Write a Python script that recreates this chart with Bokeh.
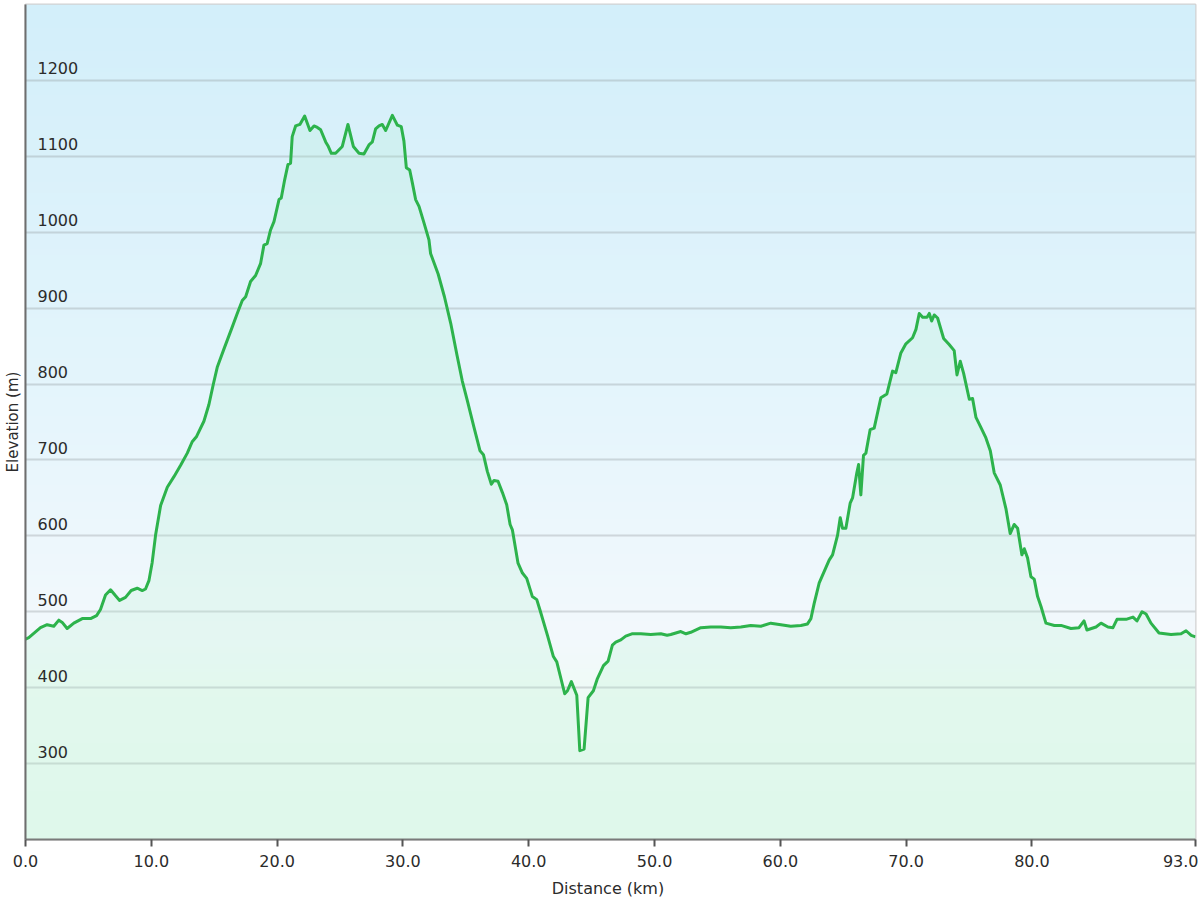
import numpy as np
from bokeh.plotting import figure
from bokeh.models import FixedTicker, Range1d
from bokeh.core.properties import value
from bokeh.embed import file_html
from bokeh.resources import INLINE

# ---------------- data ----------------
distance_km = [
    0.0, 0.26, 1.19, 1.72, 2.25, 2.65, 2.92, 3.31, 3.84, 4.51, 5.17, 5.65, 5.96, 6.36, 6.76,
    7.16, 7.48, 7.95, 8.4, 8.88, 9.28, 9.54, 9.81, 10.07, 10.34, 10.74, 11.27, 11.8, 12.33,
    12.86, 13.25, 13.6, 14.18, 14.58, 14.92,
    15.24, 15.77, 16.43, 16.83, 17.23, 17.5, 17.89, 18.29, 18.69, 18.95, 19.21, 19.48, 19.75,
    20.15, 20.33, 20.6, 20.86, 21.07, 21.2, 21.47, 21.81, 22.19, 22.61, 22.93, 23.2, 23.46,
    23.86, 24.04, 24.31, 24.65, 25.18, 25.63, 26.06, 26.51, 26.9, 27.3, 27.57, 27.83, 28.1,
    28.36, 28.63, 29.16, 29.56, 29.87, 30.08, 30.27, 30.54, 30.75, 31.01, 31.28, 31.68, 32.07,
    32.2, 32.8, 33.3, 33.8, 34.3,
    34.72, 35.12, 35.65, 36.13, 36.4, 36.71, 37.03, 37.24, 37.56, 37.91, 38.25, 38.52, 38.7,
    39.15, 39.5, 39.84, 40.29, 40.64, 40.9, 41.49, 41.96, 42.23, 42.86, 43.08, 43.39, 43.82,
    44.06, 44.4, 44.72, 45.14, 45.46, 45.94, 46.31, 46.65, 46.92, 47.32,
    47.71, 48.2, 48.91, 49.7, 50.5, 51.0, 51.29, 52.09, 52.5, 52.88, 53.68, 54.47, 55.27,
    56.06, 56.86, 57.65, 58.45, 59.24, 60.04, 60.83, 61.63,
    62.16, 62.43, 62.69, 63.09, 63.48, 63.88, 64.15, 64.55, 64.76, 64.94, 65.21, 65.55, 65.74,
    66.08, 66.22, 66.4, 66.61, 66.8, 67.14, 67.46, 67.99, 68.47, 68.92, 69.18, 69.58, 69.98,
    70.51, 70.78, 71.04, 71.31, 71.66, 71.84, 72.03, 72.23, 72.5, 72.98, 73.42, 73.82, 74.04,
    74.3, 74.57, 75.02, 75.28, 75.55, 75.94, 76.34, 76.69, 77.0, 77.48, 77.93, 78.27, 78.59,
    78.86, 79.2, 79.39, 79.65, 79.92, 80.18, 80.45, 80.72, 81.11, 81.78, 82.31,
    83.1, 83.74, 84.14, 84.37, 85.09, 85.49, 86.04, 86.44, 86.76, 87.48, 88.03, 88.35, 88.75,
    89.07, 89.46, 90.1, 91.05, 91.85, 92.25, 92.66, 93.0,
]
elevation_m = [
    464, 466, 479, 483, 481, 489, 486, 478, 485, 491, 491, 495, 503, 522, 529,
    521, 515, 519, 528, 531, 528, 530, 541, 565, 601, 640, 664, 678, 693,
    709, 724, 731, 751, 773, 799,
    822, 846, 875, 893, 910, 915, 935, 943, 959, 983, 985, 1003, 1014,
    1043, 1045, 1069, 1089, 1091, 1126, 1140, 1142, 1153, 1134, 1140, 1138, 1135,
    1119, 1114, 1104, 1104, 1113, 1142, 1113, 1104, 1103, 1115, 1119, 1136, 1140,
    1142, 1134, 1154, 1141, 1139, 1120, 1085, 1082, 1065, 1043, 1034, 1012, 990,
    972, 945, 915, 880, 838,
    804, 778, 743, 712, 707, 685, 668, 673, 672, 657, 641, 615, 608,
    564, 551, 544, 520, 516, 502, 469, 441, 434, 392, 396, 408, 390,
    317, 319, 387, 396, 412, 429, 435, 456, 460, 463,
    468, 471, 471, 470, 471, 469, 470, 474, 471, 473, 479, 480, 480,
    479, 480, 482, 481, 485, 483, 481, 482,
    484, 491, 511, 538, 553, 568, 575, 601, 624, 610, 610, 643, 650,
    683, 694, 654, 706, 709, 740, 742, 782, 787, 817, 815, 841, 853,
    861, 872, 893, 888, 888, 893, 883, 891, 887, 860, 852, 844, 812,
    830, 814, 780, 781, 756, 743, 729, 712, 683, 667, 636, 603, 615,
    610, 575, 583, 571, 546, 543, 520, 507, 485, 482, 482,
    478, 479, 488, 476, 480, 485, 480, 479, 490, 490, 493, 488, 500,
    497, 485, 472, 470, 471, 475, 469, 467,
]

y_ticks = [300, 400, 500, 600, 700, 800, 900, 1000, 1100, 1200]
y_tick_labels = ["300", "400", "500", "600", "700", "800", "900", "1000", "1100", "1200"]
x_ticks = [0, 10, 20, 30, 40, 50, 60, 70, 80, 93]
x_tick_labels = ["0.0", "10.0", "20.0", "30.0", "40.0", "50.0", "60.0", "70.0", "80.0", "93.0"]
x_title = "Distance  (km)"
y_title = "Elevation (m)"

X_MIN, X_MAX = 0, 93
Y_MIN, Y_MAX = 200, 1300

FONT = "DejaVu Sans"
TEXT_COLOR = "#2b2b2b"

p = figure(
    frame_width=1170, frame_height=835,
    x_range=Range1d(X_MIN, X_MAX), y_range=Range1d(Y_MIN, Y_MAX),
    output_backend="svg", toolbar_location=None,
    min_border_top=4, min_border_right=3, min_border_left=0, min_border_bottom=0,
    background_fill_color="white", border_fill_color="white",
)
p.outline_line_color = "#d2d2d2"
p.outline_line_width = 2

# background gradient (light blue at top -> white -> pale green at bottom)
n_rows = 400
frac_top = np.linspace(1.0, 0.0, n_rows)  # row 0 is the bottom of the image
stops_t = [0.0, 0.45, 0.76, 0.83, 1.0]
stops_rgb = np.array([(211, 239, 250), (228, 245, 252), (243, 249, 253),
                      (239, 251, 246), (236, 251, 243)], dtype=float)
img = np.empty((n_rows, 1), dtype=np.uint32)
view = img.view(dtype=np.uint8).reshape((n_rows, 1, 4))
for c in range(3):
    view[:, 0, c] = np.interp(frac_top, stops_t, stops_rgb[:, c]).astype(np.uint8)
view[:, 0, 3] = 255
p.image_rgba(image=[img], x=X_MIN, y=Y_MIN, dw=X_MAX - X_MIN, dh=Y_MAX - Y_MIN, level="image")

# grid
p.xgrid.visible = False
p.ygrid.ticker = FixedTicker(ticks=y_ticks)
p.ygrid.grid_line_color = "#8c9396"
p.ygrid.grid_line_alpha = 0.32
p.ygrid.grid_line_width = 2

# area + line
p.varea(x=distance_km, y1=Y_MIN, y2=elevation_m, fill_color="#b0f2cc", fill_alpha=0.2)
p.line(distance_km, elevation_m, line_color="#2db34c", line_width=3, line_join="round")

# y tick labels drawn inside the plot, above the grid lines
p.text(x=[X_MIN] * len(y_ticks), y=y_ticks, text=y_tick_labels,
       x_offset=12, y_offset=-12, text_baseline="alphabetic", text_align="left",
       text_font=value(FONT), text_font_size="16px", text_color=TEXT_COLOR)

# y axis: only line + title
yax = p.yaxis[0]
yax.ticker = FixedTicker(ticks=[])
yax.axis_label = y_title
yax.axis_label_text_font = FONT
yax.axis_label_text_font_size = "15px"
yax.axis_label_text_font_style = "normal"
yax.axis_label_text_color = TEXT_COLOR
yax.axis_label_standoff = 4
yax.major_tick_out = 0
yax.major_tick_in = 0
yax.minor_tick_out = 0
yax.minor_tick_in = 0
yax.major_label_standoff = 0
yax.axis_line_color = "#6e6e6e"
yax.axis_line_width = 2

# x axis
xax = p.xaxis[0]
xax.ticker = FixedTicker(ticks=x_ticks)
xax.major_label_overrides = {t: lab for t, lab in zip(x_ticks, x_tick_labels)}
xax.major_label_text_font = FONT
xax.major_label_text_font_size = "16px"
xax.major_label_text_color = TEXT_COLOR
xax.major_label_standoff = 8
xax.major_tick_out = 7
xax.major_tick_in = 0
xax.minor_tick_out = 0
xax.minor_tick_in = 0
xax.major_tick_line_color = "#555555"
xax.major_tick_line_width = 2
xax.axis_line_color = "#7a7a7a"
xax.axis_line_width = 2
xax.axis_label = x_title
xax.axis_label_text_font = FONT
xax.axis_label_text_font_size = "16px"
xax.axis_label_text_font_style = "normal"
xax.axis_label_text_color = TEXT_COLOR
xax.axis_label_standoff = 9

open("out.html", "w").write(file_html(p, INLINE))
